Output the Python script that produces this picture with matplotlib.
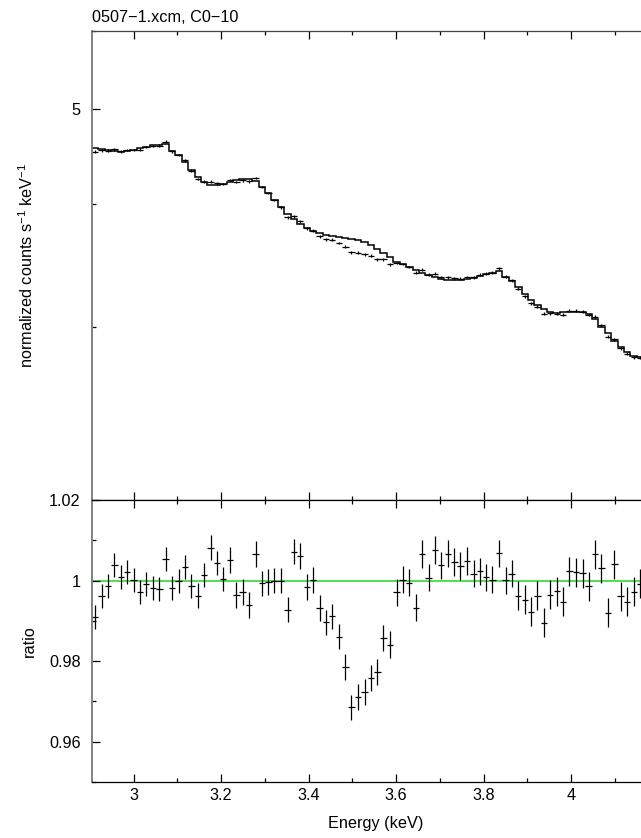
import numpy as np
import matplotlib.pyplot as plt
from matplotlib.ticker import MultipleLocator, FixedLocator, FuncFormatter, NullFormatter

plt.rcParams['font.family'] = ['Liberation Sans', 'DejaVu Sans']
plt.rcParams['mathtext.fontset'] = 'custom'
plt.rcParams['mathtext.rm'] = 'Liberation Sans'
plt.rcParams['mathtext.it'] = 'Liberation Sans:italic'

# bin centres (keV)
energy = [2.912, 2.927, 2.941, 2.956, 2.971, 2.985, 3.000, 3.015, 3.029, 3.044,
          3.059, 3.073, 3.088, 3.103, 3.117, 3.132, 3.147, 3.161, 3.176, 3.191,
          3.205, 3.220, 3.235, 3.249, 3.264, 3.279, 3.293, 3.308, 3.322, 3.337,
          3.352, 3.366, 3.381, 3.396, 3.410, 3.425, 3.440, 3.454, 3.469, 3.484,
          3.498, 3.513, 3.528, 3.542, 3.557, 3.571, 3.586, 3.601, 3.615, 3.630,
          3.645, 3.659, 3.674, 3.689, 3.703, 3.718, 3.733, 3.747, 3.762, 3.777,
          3.791, 3.806, 3.820, 3.835, 3.850, 3.864, 3.879, 3.894, 3.908, 3.923,
          3.938, 3.952, 3.967, 3.982, 3.996, 4.011, 4.026, 4.040, 4.055, 4.069,
          4.084, 4.099, 4.113, 4.128, 4.143, 4.157]
half_width = 0.00733

# folded model (counts/s/keV)
model = [4.565, 4.554, 4.540, 4.530, 4.522, 4.530, 4.540, 4.558, 4.576, 4.591,
         4.597, 4.605, 4.533, 4.488, 4.418, 4.333, 4.259, 4.212, 4.183, 4.180,
         4.190, 4.212, 4.229, 4.242, 4.245, 4.225, 4.166, 4.108, 4.039, 3.970,
         3.905, 3.860, 3.818, 3.785, 3.758, 3.735, 3.721, 3.712, 3.703, 3.699,
         3.690, 3.677, 3.657, 3.634, 3.598, 3.564, 3.531, 3.495, 3.476, 3.454,
         3.428, 3.406, 3.388, 3.374, 3.359, 3.348, 3.346, 3.348, 3.356, 3.366,
         3.382, 3.396, 3.406, 3.420, 3.374, 3.341, 3.292, 3.238, 3.195, 3.156,
         3.126, 3.109, 3.101, 3.104, 3.109, 3.109, 3.104, 3.090, 3.054, 3.001,
         2.955, 2.903, 2.864, 2.831, 2.802, 2.794]

# data / model
ratio = [0.9910, 0.9961, 0.9986, 1.0039, 1.0008, 1.0022, 1.0002, 0.9972, 0.9992, 0.9981,
         0.9980, 1.0054, 0.9982, 1.0000, 1.0034, 0.9986, 0.9963, 1.0013, 1.0082, 1.0044,
         1.0005, 1.0051, 0.9964, 0.9972, 0.9939, 1.0066, 0.9993, 0.9997, 1.0000, 1.0000,
         0.9928, 1.0072, 1.0062, 0.9985, 1.0002, 0.9932, 0.9896, 0.9911, 0.9861, 0.9785,
         0.9685, 0.9712, 0.9724, 0.9758, 0.9773, 0.9858, 0.9841, 0.9971, 1.0002, 0.9995,
         0.9933, 1.0066, 1.0007, 1.0076, 1.0038, 1.0067, 1.0046, 1.0036, 1.0049, 1.0017,
         1.0023, 1.0008, 1.0002, 1.0068, 1.0001, 1.0017, 0.9963, 0.9953, 0.9923, 0.9962,
         0.9895, 0.9965, 0.9974, 0.9947, 1.0023, 1.0021, 1.0018, 0.9986, 1.0066, 1.0031,
         0.9920, 1.0041, 0.9961, 0.9948, 0.9972, 0.9992]
ratio_err = [0.0030] * 21 + [0.0032] * 25 + [0.0034] * 20 + [0.0036] * 20

energy = np.array(energy)
model = np.array(model)
ratio = np.array(ratio)
ratio_err = np.array(ratio_err)
counts = model * ratio
counts_err = model * ratio_err
edges = np.concatenate(([energy[0] - half_width],
                        (energy[1:] + energy[:-1]) / 2,
                        [energy[-1] + half_width]))

fs = 11.7
fig = plt.figure(figsize=(6.41, 8.38), dpi=100)
ax1 = fig.add_axes([0.1435, 0.4033, 0.8841, 0.5597])
ax2 = fig.add_axes([0.1435, 0.0668, 0.8841, 0.3365], sharex=ax1)

# spectrum + model
ax1.errorbar(energy, counts, xerr=half_width, yerr=counts_err, fmt='none',
             ecolor='black', elinewidth=0.9, capsize=0)
ax1.stairs(model, edges, baseline=None, color='black', lw=1.1)
ax1.set_yscale('log')
ax1.set_ylim(2, 6)
ax1.yaxis.set_major_locator(FixedLocator([5]))
ax1.yaxis.set_minor_locator(FixedLocator([3, 4, 6]))
ax1.yaxis.set_major_formatter(FuncFormatter(lambda v, p: '%g' % v))
ax1.yaxis.set_minor_formatter(NullFormatter())
ax1.set_ylabel('normalized counts s$^{-1}$ keV$^{-1}$', fontsize=fs)

# ratio panel
ax2.axhline(1.0, color='#4fe04f', lw=1.4, zorder=1)
ax2.errorbar(energy, ratio, xerr=half_width, yerr=ratio_err, fmt='none',
             ecolor='black', elinewidth=0.9, capsize=0, zorder=2)
ax2.set_ylim(0.95, 1.02)
ax2.yaxis.set_major_locator(MultipleLocator(0.02))
ax2.yaxis.set_minor_locator(MultipleLocator(0.01))
ax2.yaxis.set_major_formatter(FuncFormatter(lambda v, p: '%g' % round(v, 3)))
ax2.set_ylabel('ratio', fontsize=fs)
ax2.set_xlabel('Energy (keV)', fontsize=fs, labelpad=10)


def energy_label(v, p):
    # the 4.2 tick sits past the printed edge, leave it unlabelled
    return '' if v > 4.15 else '%g' % round(v, 2)


ax2.set_xlim(2.905, 4.2)
for ax in (ax1, ax2):
    ax.xaxis.set_major_locator(MultipleLocator(0.2))
    ax.xaxis.set_minor_locator(MultipleLocator(0.1))
    ax.tick_params(which='both', direction='in', top=True, right=True,
                   labelsize=fs, color='black', width=0.9)
    ax.tick_params(which='major', length=5.5)
    ax.tick_params(which='minor', length=3)
    ax.tick_params(axis='y', pad=8)
    ax.tick_params(axis='x', pad=4)
    ax.xaxis.set_major_formatter(FuncFormatter(energy_label))
    for side in ('top', 'bottom', 'right'):
        ax.spines[side].set_color('black')
        ax.spines[side].set_linewidth(0.9)
    ax.spines['left'].set_color('#777777')
    ax.spines['left'].set_linewidth(1.3)
    ax.yaxis.set_label_coords(-0.098, 0.5)
ax1.tick_params(axis='x', labelbottom=False)
ax1.spines['top'].set_color('#444444')

fig.text(92 / 641, 1 - 21.7 / 838, '0507\u22121.xcm, C0\u221210',
         ha='left', va='baseline', fontsize=fs)

fig.savefig('out.png', dpi=100)
